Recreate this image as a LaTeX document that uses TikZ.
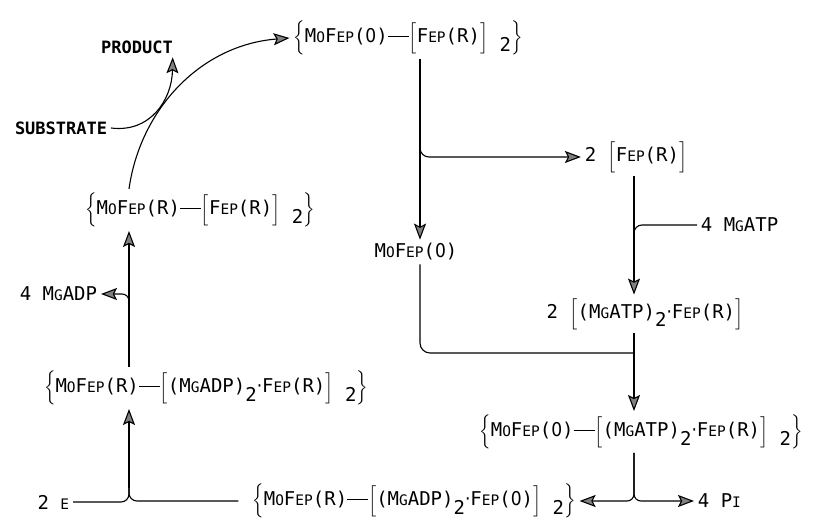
\documentclass[tikz,border=0pt]{standalone}
\usepackage{fontspec}
\setmainfont{DejaVu Sans Mono}
\newfontfamily\zf{DejaVu Sans Condensed}
\usepackage{amsmath}
\usetikzlibrary{arrows.meta}

% small capitals made by hand
\newcommand{\sk}[1]{{\fontsize{14.5}{14.5}\selectfont #1}}
\newcommand{\zero}{{\zf 0}}
\newcommand{\cdt}{{\zf ·}}
\newcommand{\mofep}{M\sk{O}F\sk{EP}}
\newcommand{\fep}{F\sk{EP}}
\newcommand{\mgatp}{M\sk{G}ATP}
\newcommand{\mgadp}{M\sk{G}ADP}
\newcommand{\bond}{\rule[0.32em]{1.1em}{0.8pt}}
\newcommand{\two}{\raisebox{-0.45em}{2}}
\newcommand{\lbc}{\scalebox{1}[1.1]{$\Big\{$}}
\newcommand{\rbc}{\scalebox{1}[1.1]{$\Big\}$}}
\newcommand{\lbr}{$\Big[$}
\newcommand{\rbr}{$\Big]$}

\begin{document}
\begin{tikzpicture}[x=1pt, y=-1pt, line width=1.1pt,
  font=\fontsize{19}{22}\selectfont,
  arr/.style={-{Stealth[length=16pt,width=12pt,inset=3pt,fill=gray,color=black]}},
  lbl/.style={font=\fontsize{17}{19}\selectfont\bfseries}]
  \useasboundingbox (0,0) rectangle (823,529);

  % Species
  \node (top)    at (408,38)  {\lbc\mofep(\zero)\bond\lbr\fep(R)\rbr\ \two\rbc};
  \node (left)   at (200,210) {\lbc\mofep(R)\bond\lbr\fep(R)\rbr\ \two\rbc};
  \node (midL)   at (206,388) {\lbc\mofep(R)\bond\lbr(\mgadp)\two\cdt\fep(R)\rbr\ \two\rbc};
  \node (bot)    at (414,501) {\lbc\mofep(R)\bond\lbr(\mgadp)\two\cdt\fep(\zero)\rbr\ \two\rbc};
  \node (botR)   at (641,432) {\lbc\mofep(\zero)\bond\lbr(\mgatp)\two\cdt\fep(R)\rbr\ \two\rbc};
  \node (fep2)   at (636,157) {2 \lbr\fep(R)\rbr};
  \node (mofep0) at (416,252) {\mofep(\zero)};
  \node (atpfep) at (645,314) {2 \lbr(\mgatp)\two\cdt\fep(R)\rbr};

  % Reactants and products
  \node[anchor=west] (atp) at (697,225) {4 \mgatp};
  \node[anchor=east] (adp) at (101,294) {4 \mgadp};
  \node[anchor=west] (pi)  at (694,501) {4 P\sk{I}};
  \node[anchor=east] (e2)  at (73,502)  {2 \sk{E}};
  \node[lbl] (product) at (137,47) {PRODUCT};
  \node[lbl, anchor=east] (substrate) at (111,128) {SUBSTRATE};

  % Columns and junctions
  \coordinate (colL) at (129,0);
  \coordinate (colM) at (420,0);
  \coordinate (colR) at (634,0);
  \coordinate (fj) at (420,138);   % FeP split
  \coordinate (aj) at (634,238);   % MgATP joins
  \coordinate (mj) at (634,353);   % MoFeP(0) joins
  \coordinate (dj) at (129,302);   % MgADP leaves
  \coordinate (ej) at (129,488);   % electrons join

  % Left side, going up
  \draw[arr] (ej) -- (midL.south -| colL);
  \draw[rounded corners=8pt] (e2.east) -| (ej);
  \draw[rounded corners=8pt] ([xshift=-10pt]bot.west) -| (ej);
  \draw[arr] (midL.north -| colL) -- (left.south -| colL);
  \draw[arr, rounded corners=7pt] (dj) |- (adp.east);
  \draw[arr] (left.north -| colL) .. controls (140,110) and (200,45) .. (top.west);
  \draw[arr] (substrate.east) .. controls (150,133) and (172,100) .. ([xshift=-4pt]product.south east);

  % Right side, going down
  \draw[arr] (top.south -| colM) -- (mofep0.north -| colM);
  \draw[arr, rounded corners=9pt] (fj) |- (fep2.west);
  \draw[arr] (fep2.south -| colR) -- (atpfep.north -| colR);
  \draw[rounded corners=8pt] (atp.west) -| (aj);
  \draw[arr] (atpfep.south -| colR) -- (botR.north -| colR);
  \draw[rounded corners=10pt] (mofep0.south -| colM) |- (mj);
  \draw[arr, rounded corners=7pt] (botR.south -| colR) |- (bot.east);
  \draw[arr, rounded corners=7pt] (botR.south -| colR) |- (pi.west);
\end{tikzpicture}
\end{document}
